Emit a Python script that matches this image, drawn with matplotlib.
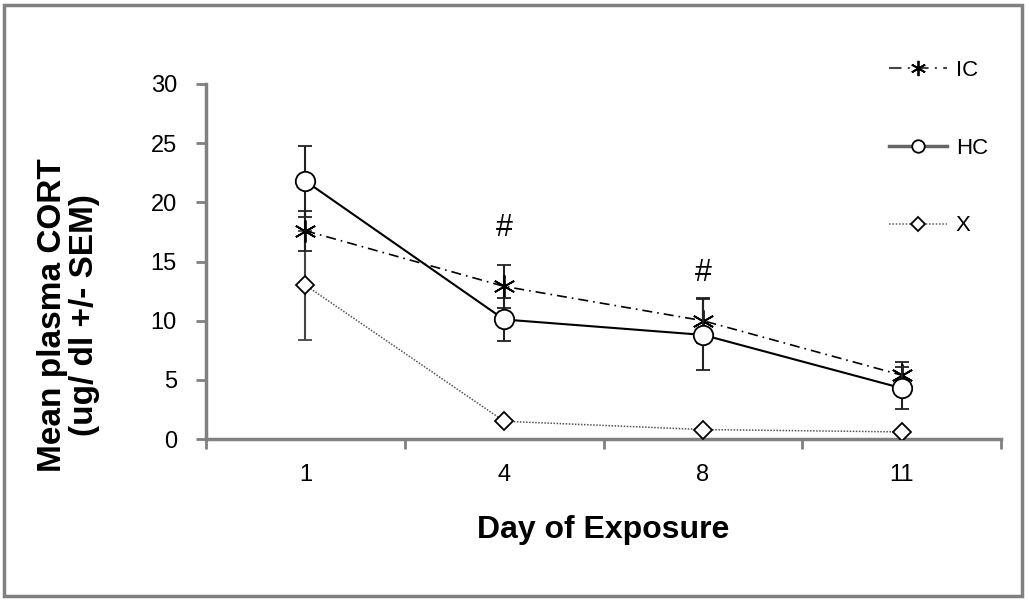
import matplotlib
matplotlib.use("Agg")
import matplotlib.pyplot as plt
from matplotlib.patches import Rectangle
from matplotlib.lines import Line2D

plt.rcParams['font.family'] = ['Liberation Sans', 'DejaVu Sans']

days = ['1', '4', '8', '11']
ic_mean = [17.6, 12.9, 10.0, 5.4]
ic_sem = [1.7, 1.8, 1.9, 1.1]
hc_mean = [21.8, 10.1, 8.8, 4.3]
hc_sem = [3.0, 1.8, 3.0, 1.8]
x_mean = [13.0, 1.5, 0.8, 0.6]
x_sem = [4.6, 0.0, 0.0, 0.0]
sig_labels = ['', '#', '#', '']
sig_y = [0, 17.8, 14.0, 0]

grey = '#808080'
ic_ls = (0, (6, 3, 1, 3))
x_ls = (0, (1, 1))

fig = plt.figure(figsize=(10.29, 6.0), dpi=100)
ax = fig.add_axes([0.2002, 0.2683, 0.7726, 0.5917])
pos = list(range(len(days)))

ax.errorbar(pos, x_mean, yerr=x_sem, color='#555555', ls=x_ls, lw=1.1,
            marker='D', ms=9, mfc='white', mec='black', mew=1.3,
            ecolor='#444444', elinewidth=1.5, capsize=5, capthick=1.5, zorder=3)
ax.errorbar(pos, ic_mean, yerr=ic_sem, color='black', ls=ic_ls, lw=1.2,
            marker=(6, 2, 0), ms=16, mec='black', mew=1.3,
            ecolor='#222222', elinewidth=1.5, capsize=5, capthick=1.5, zorder=4)
ax.errorbar(pos, hc_mean, yerr=hc_sem, color='black', ls='-', lw=1.5,
            marker='o', ms=14, mfc='white', mec='black', mew=1.3,
            ecolor='#222222', elinewidth=1.5, capsize=5, capthick=1.5, zorder=5)

for p, s, y in zip(pos, sig_labels, sig_y):
    if s:
        ax.text(p, y, s, ha='center', va='center', fontsize=22)

ax.set_xlim(-0.5, len(days) - 0.5)
ax.set_ylim(0, 30)
ax.set_yticks(range(0, 31, 5))
ax.set_xticks(pos)
ax.set_xticklabels(days)
ax.set_xticks([p - 0.5 for p in pos] + [len(days) - 0.5], minor=True)
ax.tick_params(axis='x', which='major', length=0, pad=18, labelsize=17)
ax.tick_params(axis='x', which='minor', length=7, width=2, color=grey, direction='out')
ax.tick_params(axis='y', length=7, width=2, color=grey, direction='out', pad=14, labelsize=17)

for side in ['top', 'right']:
    ax.spines[side].set_visible(False)
for side in ['left', 'bottom']:
    ax.spines[side].set_color(grey)
    ax.spines[side].set_linewidth(2.5)

ax.set_xlabel('Day of Exposure', fontsize=23, fontweight='bold')
ax.xaxis.set_label_coords(0.5, -0.215)
ax.set_ylabel('Mean plasma CORT\n(ug/ dl +/- SEM)', fontsize=24, fontweight='bold', linespacing=1.05)
ax.yaxis.set_label_coords(-0.133, 0.35)

handles = [
    Line2D([], [], color='#444444', ls=ic_ls, lw=1.5, marker=(6, 2, 0), ms=11, mec='black', mew=1.3),
    Line2D([], [], color='#666666', ls='-', lw=2.5, marker='o', ms=9, mfc='white', mec='black', mew=1.3),
    Line2D([], [], color='#777777', ls=x_ls, lw=1.2, marker='D', ms=7, mfc='white', mec='black', mew=1.3),
]
fig.legend(handles, ['IC', 'HC', 'X'], loc='upper left', bbox_to_anchor=(0.864, 0.9),
           frameon=False, fontsize=16, handlelength=2.6, handletextpad=0.4, labelspacing=2.55,
           borderpad=0, borderaxespad=0)

fig.patches.append(Rectangle((4 / 1029, 4 / 600), 1018 / 1029, 591 / 600,
                             transform=fig.transFigure, fill=False,
                             edgecolor=grey, linewidth=2.5))

fig.savefig('out.png', dpi=100)
